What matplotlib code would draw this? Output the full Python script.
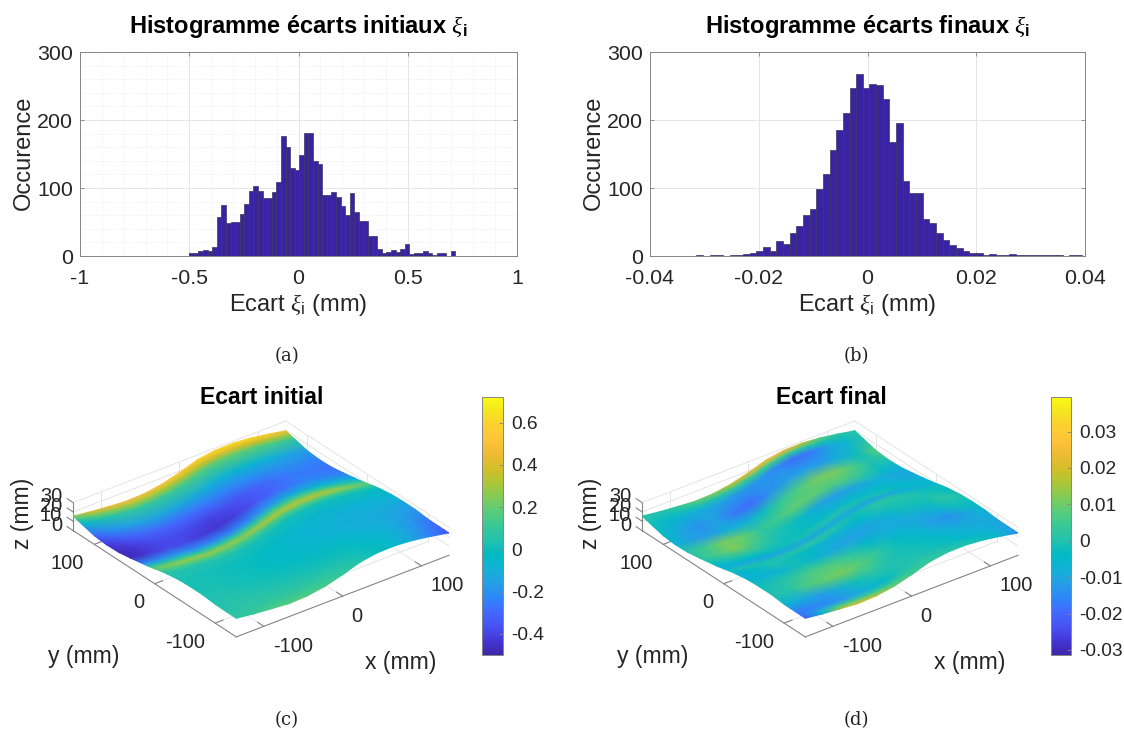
import numpy as np
import matplotlib
matplotlib.use('Agg')
import matplotlib.pyplot as plt
from matplotlib.colors import LinearSegmentedColormap
from matplotlib.transforms import offset_copy
from mpl_toolkits.mplot3d import proj3d

plt.rcParams['font.family'] = ['Liberation Sans', 'DejaVu Sans']
plt.rcParams['mathtext.fontset'] = 'custom'
plt.rcParams['mathtext.rm'] = 'Liberation Sans'
plt.rcParams['mathtext.it'] = 'Liberation Serif:italic'
plt.rcParams['mathtext.bf'] = 'Liberation Sans:bold'
plt.rcParams['axes.unicode_minus'] = False

W, H = 1124, 729
GREY = '#262626'
LINE = '#858585'
TICK_SIZE = 15.4
TICK_SIZE_3D = 14.4
BAR_SIZE = 13.8
LABEL_SIZE = 17
LABEL_SIZE_3D = 16.6

# histogram counts, 58 bins each
range_a = (-0.5, 0.717)
counts_a = [5, 4, 8, 9, 8, 13, 57, 75, 49, 50,
            50, 62, 77, 96, 103, 95, 86, 86, 94, 109,
            176, 160, 130, 126, 148, 181, 181, 140, 136, 90,
            89, 94, 87, 74, 60, 92, 64, 52, 52, 29,
            30, 10, 5, 6, 9, 6, 11, 18, 3, 5,
            5, 7, 4, 1, 4, 4, 0, 8]
range_b = (-0.03146, 0.03954)
counts_b = [1, 0, 1, 1, 0, 1, 1,
            3, 4, 8, 13, 8, 22, 18, 34, 44, 61,
            69, 99, 121, 156, 185, 211, 247, 268, 247, 253,
            251, 231, 168, 195, 111, 92, 93, 54, 49, 34,
            24, 16, 12, 8, 4, 4, 2, 3, 2, 2,
            3, 1, 2, 1, 2, 1, 1,
            1, 0, 1, 1]

# surface grid
x_grid = [-135, -112.5, -90, -67.5, -45, -22.5, 0, 22.5, 45, 67.5, 90, 112.5, 135]
y_grid = [135, 128, 120, 100, 80, 60, 40, 20, 10, 0, -10, -20, -40, -60, -80, -100, -120, -128, -135]
# height of the sheet read along each edge (mm), the two add up
z_along_x = [0, -2.5, -4.3, -6, -5.2, -2.3, 3, 9.3, 12.2, 12.5, 10.8, 7.7, 4]
z_along_y = [15.5, 14.2, 12.8, 9.3, 8.1, 8.5, 10.6, 13.1, 14.3, 16, 17.7, 19.1, 21.1, 21.7, 21.6, 20.2, 20, 20, 20]

# colour values, one row per y_grid entry
ecart_initial = [
    [.25, .40, .46, .47, .49, .52, .55, .58, .61, .62, .60, .56, .48],
    [.08, .20, .26, .28, .29, .31, .34, .37, .40, .40, .38, .34, .28],
    [-.06, .02, .07, .09, .10, .12, .14, .16, .19, .19, .17, .14, .08],
    [-.30, -.22, -.17, -.15, -.14, -.13, -.11, -.09, -.07, -.07, -.09, -.13, -.17],
    [-.42, -.36, -.31, -.30, -.30, -.29, -.26, -.23, -.21, -.20, -.20, -.22, -.24],
    [-.47, -.43, -.39, -.38, -.39, -.40, -.38, -.35, -.31, -.28, -.26, -.26, -.28],
    [-.48, -.43, -.39, -.39, -.42, -.44, -.41, -.36, -.31, -.27, -.23, -.24, -.25],
    [-.22, -.20, -.18, -.20, -.22, -.24, -.22, -.18, -.12, -.08, -.07, -.08, -.10],
    [.04, .06, .08, .06, .06, .06, .08, .12, .15, .16, .14, .10, .05],
    [.20, .26, .28, .28, .27, .27, .30, .33, .34, .34, .31, .25, .18],
    [.13, .15, .15, .14, .14, .13, .12, .13, .15, .15, .14, .11, .07],
    [.05, .05, .04, .04, .03, .02, .01, .01, .01, .01, .01, 0, -.02],
    [.03, .02, .01, 0, -.01, -.03, -.05, -.06, -.07, -.07, -.07, -.07, -.07],
    [.02, .02, .01, 0, -.02, -.04, -.06, -.08, -.09, -.10, -.10, -.11, -.12],
    [.03, .03, .02, .01, 0, -.02, -.04, -.06, -.09, -.11, -.12, -.15, -.19],
    [.04, .05, .05, .04, .03, .02, 0, -.02, -.05, -.08, -.11, -.18, -.26],
    [.06, .07, .08, .09, .09, .08, .05, .02, -.02, -.06, -.12, -.21, -.31],
    [.07, .09, .12, .13, .13, .11, .08, .03, -.01, -.06, -.13, -.23, -.33],
    [.07, .11, .15, .17, .16, .14, .10, .05, 0, -.06, -.13, -.24, -.35],
]
ecart_final = [
    [.002, 0, .004, .008, .012, .018, .024, .026, .024, .018, .008, .002, 0],
    [0, -.002, -.001, 0, 0, .002, .004, .005, .002, 0, -.002, -.002, 0],
    [-.002, -.005, -.007, -.009, -.011, -.013, -.013, -.015, -.019, -.017, -.011, -.007, 0],
    [-.004, -.010, -.014, -.012, -.018, -.019, -.014, -.012, -.012, -.012, -.008, -.002, .008],
    [-.007, -.012, -.012, -.008, -.008, -.002, .004, .007, .011, .011, .007, 0, 0],
    [.001, .005, .011, .010, .003, .005, .009, .009, .007, .006, .002, -.005, -.008],
    [.002, .007, .012, .006, .001, -.002, -.006, -.012, -.012, -.010, -.008, -.010, -.010],
    [-.002, 0, .001, 0, -.002, -.003, -.005, -.006, -.005, -.005, -.005, -.007, -.007],
    [-.006, -.005, -.004, -.003, -.002, -.001, 0, 0, -.001, -.001, -.003, -.004, -.006],
    [-.007, -.009, -.010, -.010, -.010, -.010, -.009, -.010, -.010, -.010, -.009, -.008, -.006],
    [-.002, 0, -.002, 0, .001, .002, 0, -.002, .001, .002, -.001, -.003, -.002],
    [-.007, -.004, 0, -.002, -.004, -.007, -.007, -.004, 0, 0, 0, -.002, -.004],
    [-.006, -.007, -.006, -.002, -.007, -.010, -.012, -.010, -.006, -.002, -.002, .002, 0],
    [-.002, 0, .003, .007, .007, .002, -.005, -.009, -.010, -.009, -.007, -.002, -.003],
    [0, .001, .007, .009, .011, .008, .002, -.004, -.007, -.012, -.014, -.010, -.007],
    [-.006, -.009, -.012, -.009, -.002, .002, 0, -.002, -.004, -.007, -.009, -.009, -.010],
    [-.017, -.016, -.015, -.012, -.008, -.005, 0, 0, -.002, -.004, -.006, -.008, -.012],
    [-.018, -.010, .002, .006, .004, .002, .002, .002, 0, -.001, -.003, -.006, -.012],
    [-.022, -.006, .016, .022, .018, .010, .006, .004, .002, 0, -.002, -.006, -.016],
]
lim_initial = (-0.5, 0.722)
lim_final = (-0.0314, 0.0395)
ticks_initial = [-0.4, -0.2, 0, 0.2, 0.4, 0.6]
ticks_final = [-0.03, -0.02, -0.01, 0, 0.01, 0.02, 0.03]

parula = LinearSegmentedColormap.from_list('parula', [
    (.2422, .1504, .6603), (.2706, .2147, .8364), (.2810, .3228, .9579),
    (.2602, .4123, .9952), (.1786, .5289, .9682), (.1380, .6276, .8973),
    (.0689, .6948, .8394), (.0067, .7312, .7660), (.1408, .7584, .6842),
    (.2161, .7843, .5923), (.3406, .8008, .4789), (.5044, .7993, .3480),
    (.6720, .7793, .2227), (.8203, .7498, .1535), (.9393, .7288, .2100),
    (.9970, .7659, .2199), (.9892, .8135, .1884), (.9626, .8949, .1309),
    (.9769, .9839, .0805)], N=256)

fig = plt.figure(figsize=(W / 100, H / 100), dpi=100)


def rect(left, top, right, bottom):
    return [left / W, 1 - bottom / H, (right - left) / W, (bottom - top) / H]


def label(x, y, s, **kw):
    fig.text(x / W, 1 - y / H, s, ha='center', va='center', **kw)


def histogram(box, counts, span, xticks, title, minor):
    ax = fig.add_axes(rect(*box))
    edges = np.linspace(span[0], span[1], len(counts) + 1)
    ax.bar(edges[:-1], counts, width=np.diff(edges), align='edge',
           color='#3a23a3', edgecolor='#3b3760', linewidth=0.5, zorder=3)
    ax.set_xlim(xticks[0], xticks[-1])
    ax.set_ylim(0, 300)
    ax.set_xticks(xticks)
    ax.set_xticklabels(['%g' % t for t in xticks])
    ax.set_yticks([0, 100, 200, 300])
    ax.tick_params(direction='in', top=True, right=True, length=3, width=0.6,
                   color=LINE, labelsize=TICK_SIZE, labelcolor=GREY)
    ax.tick_params(axis='x', pad=9)
    ax.tick_params(axis='y', pad=5)
    ax.grid(True, color='#e6e6e6', linewidth=0.7, zorder=0)
    if minor:
        ax.set_xticks(np.arange(-0.9, 0.95, 0.1), minor=True)
        ax.set_yticks(np.arange(20, 300, 20), minor=True)
        ax.tick_params(which='minor', length=0)
        ax.grid(True, which='minor', color='#e8e8e8', linewidth=0.6, linestyle=':', zorder=0)
    ax.set_axisbelow(True)
    for s in ax.spines.values():
        s.set_color(LINE)
        s.set_linewidth(0.7)
    ax.set_xlabel('Ecart $\\xi_{\\mathrm{i}}$ (mm)', fontsize=LABEL_SIZE, color=GREY, labelpad=3)
    ax.set_ylabel('Occurence', fontsize=LABEL_SIZE, color=GREY)
    ax.yaxis.set_label_coords(-0.103, 0.505)
    ax.set_title(title, fontsize=LABEL_SIZE, fontweight='bold', color='black', pad=14)
    return ax


def surface(dx, values, lims, title, ticks, bar_left, bar_right):
    # hidden 3D axes give the projection, MATLAB default view
    side = 369.3
    ax = fig.add_axes([(71.4 + dx) / W, 10.4 / H, side / W, side / H],
                      projection='3d', proj_type='ortho')
    ax.set_box_aspect((1, 1, 0.1205))
    ax.view_init(elev=30, azim=-127.5)
    ax.set_xlim(-135, 135)
    ax.set_ylim(-135, 135)
    ax.set_zlim(0, 30)
    ax.set_axis_off()

    # walls and floor grid
    grid = dict(color='#e4e4e4', linewidth=0.7, clip_on=False)
    for t in [-100, 0, 100]:
        ax.plot([t, t], [-135, 135], [0, 0], **grid)
        ax.plot([-135, 135], [t, t], [0, 0], **grid)
        ax.plot([t, t], [135, 135], [0, 30], **grid)
        ax.plot([135, 135], [t, t], [0, 30], **grid)
    for z in [10, 20, 30]:
        ax.plot([-135, 135], [135, 135], [z, z], **grid)
        ax.plot([135, 135], [-135, 135], [z, z], **grid)

    # axis lines and tick marks
    axis = dict(color=LINE, linewidth=0.8, clip_on=False)
    ax.plot([-135, 135], [-135, -135], [0, 0], **axis)
    ax.plot([-135, -135], [-135, 135], [0, 0], **axis)
    ax.plot([-135, -135], [135, 135], [0, 30], **axis)
    under_x = offset_copy(ax.transData, fig, x=9, y=-20, units='dots')
    under_y = offset_copy(ax.transData, fig, x=-10.5, y=-19, units='dots')
    for t in [-100, 0, 100]:
        ax.plot([t, t], [-135, -125], [0, 0], **axis)
        ax.plot([-135, -125], [t, t], [0, 0], **axis)
        ax.text(t, -135, 0, str(t), ha='left', va='center', fontsize=TICK_SIZE_3D,
                color=GREY, transform=under_x)
        ax.text(-135, t, 0, str(t), ha='right', va='center', fontsize=TICK_SIZE_3D,
                color=GREY, transform=under_y)
    for z in [0, 10, 20, 30]:
        ax.plot([-135, -135], [135, 145], [z, z], **axis)
        beside_z = offset_copy(ax.transData, fig, x=-11, y=5 + z * 0.03, units='dots')
        ax.text(-135, 135, z, str(z), ha='right', va='center', fontsize=TICK_SIZE_3D,
                color=GREY, transform=beside_z)

    # sheet: same coordinate system as the 3D axes, gouraud shading by the library
    X, Y = np.meshgrid(x_grid, y_grid)
    Z = np.array(z_along_y)[:, None] + np.array(z_along_x)[None, :]
    ax.apply_aspect()
    px, py, _ = proj3d.proj_transform(X.ravel(), Y.ravel(), Z.ravel(), ax.get_proj())
    top = fig.add_axes(ax.get_position(), zorder=5)
    top.set_xlim(*ax.viewLim.intervalx)
    top.set_ylim(*ax.viewLim.intervaly)
    top.axis('off')
    mesh = top.pcolormesh(np.reshape(px, X.shape), np.reshape(py, X.shape),
                          np.array(values), shading='gouraud', cmap=parula,
                          vmin=lims[0], vmax=lims[1], clip_on=False)

    cax = fig.add_axes(rect(bar_left, 397, bar_right, 655))
    cb = fig.colorbar(mesh, cax=cax, ticks=ticks)
    cb.ax.set_yticklabels(['%g' % t for t in ticks])
    cb.ax.tick_params(direction='in', length=3, width=0.6, color=LINE,
                      labelsize=BAR_SIZE, labelcolor=GREY, pad=6)
    cb.outline.set_edgecolor(LINE)
    cb.outline.set_linewidth(0.7)

    label(262 + dx, 398, title, fontsize=LABEL_SIZE_3D, fontweight='bold', color='black')
    label(401 + dx, 663, 'x (mm)', fontsize=LABEL_SIZE_3D, color=GREY)
    label(84 + dx, 657, 'y (mm)', fontsize=LABEL_SIZE_3D, color=GREY)
    label(22 + dx, 513, 'z (mm)', fontsize=LABEL_SIZE_3D, color=GREY, rotation=90)


histogram((80, 52, 517, 256), counts_a, range_a, [-1, -0.5, 0, 0.5, 1],
          'Histogramme écarts initiaux $\\xi_{\\mathbf{i}}$', True)
histogram((650, 52, 1085, 256), counts_b, range_b, [-0.04, -0.02, 0, 0.02, 0.04],
          'Histogramme écarts finaux $\\xi_{\\mathbf{i}}$', False)
surface(0, ecart_initial, lim_initial, 'Ecart initial', ticks_initial, 482, 503)
surface(569, ecart_final, lim_final, 'Ecart final', ticks_final, 1051, 1071)

for x, y, s in [(287, 356, '(a)'), (856, 356, '(b)'), (287, 720, '(c)'), (856, 720, '(d)')]:
    label(x, y, s, fontsize=13, family='DejaVu Serif', color='#222222')

fig.savefig('out.png', dpi=100)
